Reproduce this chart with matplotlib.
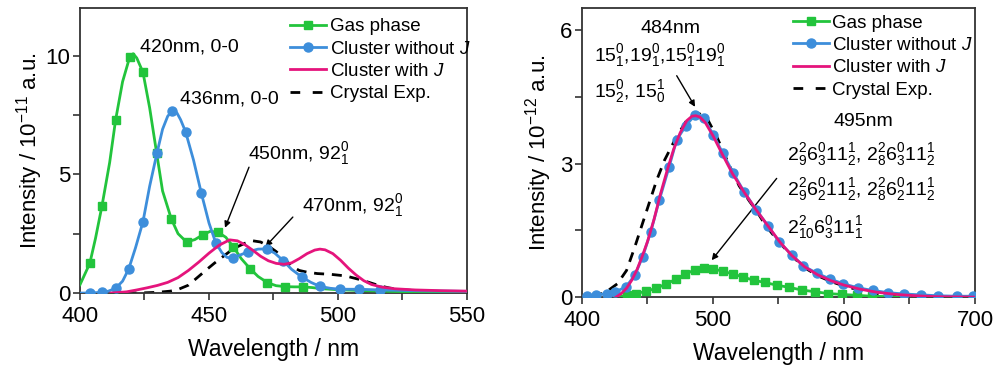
import numpy as np
import matplotlib
matplotlib.use("Agg")
import matplotlib.pyplot as plt
from matplotlib.ticker import MultipleLocator

plt.rcParams['font.family'] = ['Liberation Sans', 'DejaVu Sans']
plt.rcParams['mathtext.fontset'] = 'custom'
plt.rcParams['mathtext.rm'] = 'Liberation Sans'
plt.rcParams['mathtext.it'] = 'Liberation Sans:italic'
plt.rcParams['mathtext.bf'] = 'Liberation Sans:bold'

GREEN = '#22c43c'
BLUE = '#3d8edb'
PINK = '#e5147c'
AXC = '#333333'

# ---------------- left panel data (x1e-11 a.u.) ----------------
gas_l_x = [400, 403.8, 406, 408.5, 411.5, 413.8, 416.5, 419.3, 420.6, 422, 424.4, 427, 429.7,
           432, 435.4, 438, 441.3, 444.5, 447.7, 450.5, 453.5, 456.5, 459.4, 462.5, 465.9,
           469, 472.6, 476, 479.5, 483, 486.3, 490, 494, 500, 510, 520, 530, 540, 550]
gas_l_y = [0.35, 1.25, 2.3, 3.66, 5.5, 7.29, 8.9, 9.95, 10.08, 9.9, 9.3, 7.8, 5.9,
           4.3, 3.12, 2.5, 2.15, 2.25, 2.46, 2.6, 2.56, 2.35, 1.95, 1.45, 1.03,
           0.7, 0.44, 0.31, 0.27, 0.26, 0.26, 0.23, 0.18, 0.14, 0.1, 0.07, 0.05, 0.03, 0.02]
gas_l_mx = [403.8, 408.5, 413.8, 419.3, 424.4, 429.7, 435.4, 441.3, 447.7, 453.5, 459.4,
            465.9, 472.6, 479.5, 486.3]
gas_l_my = [1.25, 3.66, 7.29, 9.95, 9.3, 5.9, 3.12, 2.15, 2.46, 2.56, 1.95,
            1.03, 0.44, 0.27, 0.26]

blue_l_x = [400, 403.8, 408.5, 411, 413.8, 416.5, 418.9, 421.5, 424.4, 427, 429.8, 432, 434,
            435.7, 437.5, 439, 440.9, 444, 447, 450, 452.6, 455, 457, 459.3, 462, 465.3,
            469, 472.4, 475.5, 478.8, 482, 485.9, 489.5, 493, 497, 500.8, 508.3, 516.2,
            525, 535, 550]
blue_l_y = [0, 0, 0.03, 0.08, 0.2, 0.5, 1.02, 1.9, 3.0, 4.5, 5.88, 6.9, 7.45,
            7.66, 7.6, 7.3, 6.8, 5.6, 4.22, 2.95, 2.12, 1.7, 1.5, 1.48, 1.6, 1.74,
            1.85, 1.86, 1.68, 1.36, 1.0, 0.68, 0.45, 0.28, 0.2, 0.16, 0.16, 0.13,
            0.11, 0.09, 0.07]
blue_l_mx = [403.8, 408.5, 413.8, 418.9, 424.4, 429.8, 435.7, 440.9, 447, 452.6, 459.3,
             465.3, 472.4, 478.8, 485.9, 493, 500.8, 508.3, 516.2]
blue_l_my = [0, 0.03, 0.2, 1.02, 3.0, 5.88, 7.66, 6.8, 4.22, 2.12, 1.48,
             1.74, 1.86, 1.36, 0.68, 0.28, 0.16, 0.16, 0.13]

pink_l_x = [412, 418, 422, 426, 430, 434, 438, 442, 446, 450, 454, 458, 461, 464, 467,
            470, 473, 476, 479, 482, 485, 488, 491, 493, 495, 498, 501, 504, 507, 510,
            513, 517, 522, 530, 540, 550]
pink_l_y = [0, 0.05, 0.13, 0.22, 0.32, 0.45, 0.65, 0.95, 1.3, 1.68, 2.02, 2.24, 2.2, 2.03, 1.8,
            1.55, 1.36, 1.25, 1.21, 1.27, 1.45, 1.66, 1.81, 1.85, 1.82, 1.66, 1.38, 1.05, 0.76, 0.52,
            0.36, 0.25, 0.18, 0.13, 0.1, 0.08]

crys_l_x = [418, 425, 430, 435, 438, 442, 446, 449, 452, 455, 458, 461, 464, 467, 470,
            473, 476, 479, 482, 485, 488, 492, 497, 503, 508, 512, 516, 520, 525, 530,
            540, 550]
crys_l_y = [0, 0.01, 0.03, 0.08, 0.15, 0.33, 0.7, 0.98, 1.25, 1.5, 1.75, 1.95, 2.1, 2.2, 2.15,
            1.98, 1.75, 1.45, 1.13, 0.95, 0.88, 0.82, 0.79, 0.72, 0.58, 0.45, 0.31, 0.21, 0.14, 0.1,
            0.06, 0.05]

# ---------------- right panel data (x1e-12 a.u.) ----------------
gas_r_x = [426, 434, 441, 449, 456.5, 464, 471.5, 479, 486, 493, 500, 507.4, 515.5, 523,
           531, 539.5, 548.5, 558, 567.7, 578, 588, 598.3, 610, 621, 635, 650]
gas_r_y = [0, 0.04, 0.08, 0.13, 0.2, 0.29, 0.4, 0.52, 0.61, 0.66, 0.64, 0.58, 0.52, 0.45,
           0.38, 0.33, 0.27, 0.22, 0.16, 0.12, 0.08, 0.06, 0.04, 0.02, 0.01, 0]
gas_r_mx = gas_r_x[1:24]
gas_r_my = gas_r_y[1:24]

blue_r_x = [403.5, 411, 419, 425.5, 433.6, 440.5, 446.3, 452.4, 459, 466.4, 472.3, 479.4,
            486.3, 493.1, 500.2, 507.4, 515.5, 523.7, 532.8, 541.8, 550.6, 560.1, 569,
            579.2, 589, 599.5, 610.5, 621.9, 633.8, 646, 659, 672, 686, 698.7]
blue_r_y = [0.03, 0.05, 0.08, 0.12, 0.23, 0.5, 0.91, 1.46, 2.18, 2.92, 3.54, 3.86,
            4.1, 4.02, 3.65, 3.24, 2.79, 2.37, 1.97, 1.61, 1.24, 0.95, 0.7,
            0.54, 0.41, 0.3, 0.21, 0.15, 0.1, 0.07, 0.05, 0.03, 0.02, 0.02]

pink_r_x = [426, 430, 434, 438, 442, 446, 450, 455, 460, 465, 470, 475, 480, 484, 487, 490,
            494, 500, 507, 515, 524, 533, 542, 551, 560, 570, 580, 590, 600, 612, 625, 640,
            655, 670, 700]
pink_r_y = [0, 0.08, 0.2, 0.38, 0.62, 0.92, 1.25, 1.75, 2.33, 2.85, 3.33, 3.7, 3.97, 4.07, 4.08,
            4.05, 3.93, 3.63, 3.22, 2.77, 2.35, 1.96, 1.6, 1.24, 0.94, 0.68, 0.5, 0.37, 0.27, 0.18,
            0.11, 0.06, 0.03, 0.01, 0]

crys_r_x = [408, 415, 420, 427, 434, 440, 445, 450, 457, 463, 472, 480, 486, 490, 496,
            503, 508, 513, 520, 528, 533, 540, 550, 560, 570, 580, 590, 600, 610, 620,
            630, 640, 655]
crys_r_y = [0.03, 0.08, 0.15, 0.3, 0.6, 1.1, 1.55, 2.0, 2.63, 3.08, 3.6, 3.98, 4.14, 4.12, 3.99,
            3.6, 3.26, 2.93, 2.5, 2.15, 1.95, 1.62, 1.25, 0.93, 0.66, 0.48, 0.35, 0.25, 0.17, 0.1,
            0.06, 0.03, 0]

labels = ['Gas phase', 'Cluster without $J$', 'Cluster with $J$', 'Crystal Exp.']

fig = plt.figure(figsize=(10, 3.7), dpi=100)
ax1 = fig.add_axes([0.08, 0.208, 0.387, 0.77])
ax2 = fig.add_axes([0.582, 0.197, 0.393, 0.781])

LW = 2.0
dash = (3.6, 2.8)


def draw(ax, gx, gy, gmx, gmy, bx, by, bmx, bmy, px, py, cx, cy):
    ax.plot(cx, cy, color='k', lw=LW, ls=(0, dash), zorder=2)
    ax.plot(gx, gy, color=GREEN, lw=LW, zorder=3)
    ax.plot(gmx, gmy, ls='none', marker='s', ms=5.5, color=GREEN, zorder=3)
    ax.plot(bx, by, color=BLUE, lw=LW, zorder=4)
    ax.plot(bmx, bmy, ls='none', marker='o', ms=6.5, color=BLUE, zorder=4)
    ax.plot(px, py, color=PINK, lw=LW, zorder=5)
    handles = [
        plt.Line2D([], [], color=GREEN, lw=LW, marker='s', ms=5.5),
        plt.Line2D([], [], color=BLUE, lw=LW, marker='o', ms=6.5),
        plt.Line2D([], [], color=PINK, lw=LW),
        plt.Line2D([], [], color='k', lw=LW, ls=(0, (3.5, 4.5))),
    ]
    return handles


h = draw(ax1, gas_l_x, gas_l_y, gas_l_mx, gas_l_my, blue_l_x, blue_l_y, blue_l_mx, blue_l_my,
         pink_l_x, pink_l_y, crys_l_x, crys_l_y)
draw(ax2, gas_r_x, gas_r_y, gas_r_mx, gas_r_my, blue_r_x, blue_r_y, blue_r_x, blue_r_y,
     pink_r_x, pink_r_y, crys_r_x, crys_r_y)

for ax, anchor in [(ax1, (0.543, 0.965)), (ax2, (0.537, 0.978))]:
    ax.legend(h, labels, loc='upper left', bbox_to_anchor=anchor, frameon=False,
              fontsize=13.5, numpoints=1, handlelength=1.9, handletextpad=0.2,
              labelspacing=0.28, borderpad=0, borderaxespad=0)

ax1.set_xlim(400, 550)
ax1.set_ylim(0, 12)
ax1.xaxis.set_major_locator(MultipleLocator(50))
ax1.xaxis.set_minor_locator(MultipleLocator(25))
ax1.yaxis.set_major_locator(MultipleLocator(5))
ax1.yaxis.set_minor_locator(MultipleLocator(2.5))
ax1.set_ylabel('Intensity / 10$^{-11}$ a.u.', fontsize=16, labelpad=0)

ax2.set_xlim(400, 700)
ax2.set_ylim(0, 6.5)
ax2.xaxis.set_major_locator(MultipleLocator(100))
ax2.xaxis.set_minor_locator(MultipleLocator(50))
ax2.yaxis.set_major_locator(MultipleLocator(3))
ax2.yaxis.set_minor_locator(MultipleLocator(1.5))
ax2.set_ylabel('Intensity / 10$^{-12}$ a.u.', fontsize=16, labelpad=4)

for ax in (ax1, ax2):
    ax.set_xlabel('Wavelength / nm', fontsize=16.5, labelpad=8)
    ax.tick_params(which='both', direction='out', length=5, width=1.2, color=AXC,
                   labelsize=16, top=False, right=False, pad=2)
    ax.tick_params(axis='x', which='both', pad=4.5)
    for s in ax.spines.values():
        s.set_color(AXC)
        s.set_linewidth(1.3)

arrow = dict(arrowstyle='-|>', color='k', lw=1.0, mutation_scale=9, shrinkA=0, shrinkB=0)
FS = 14

# left annotations
ax1.text(423.3, 10.18, '420nm, 0-0', fontsize=FS, ha='left', va='baseline')
ax1.text(438.8, 7.97, '436nm, 0-0', fontsize=FS, ha='left', va='baseline')
ax1.text(465.1, 5.66, '450nm, $92_1^0$', fontsize=FS, ha='left', va='baseline')
ax1.text(485.9, 3.44, '470nm, $92_1^0$', fontsize=FS, ha='left', va='baseline')
ax1.annotate('', xy=(456.2, 2.75), xytext=(465.5, 5.3), arrowprops=arrow)
ax1.annotate('', xy=(471.9, 1.96), xytext=(482.5, 3.2), arrowprops=arrow)

# right annotations
ax2.text(467.7, 5.95, '484nm', fontsize=FS, ha='center', va='baseline')
ax2.text(409.4, 5.3, '$15_1^0$,$19_1^0$,$15_1^0 19_1^0$', fontsize=FS, ha='left', va='baseline')
ax2.text(409.4, 4.51, '$15_2^0$, $15_0^1$', fontsize=FS, ha='left', va='baseline')
ax2.annotate('', xy=(486.3, 4.28), xytext=(472.3, 4.98), arrowprops=arrow)
ax2.text(614.8, 3.84, '495nm', fontsize=FS, ha='center', va='baseline')
ax2.text(556.7, 3.09, '$2_9^2 6_3^0 11_2^1$, $2_8^2 6_3^0 11_2^1$', fontsize=FS, ha='left', va='baseline')
ax2.text(556.7, 2.30, '$2_9^2 6_2^0 11_2^1$, $2_8^2 6_2^0 11_2^1$', fontsize=FS, ha='left', va='baseline')
ax2.text(556.7, 1.43, '$2_{10}^2 6_3^0 11_1^1$', fontsize=FS, ha='left', va='baseline')
ax2.annotate('', xy=(499, 0.83), xytext=(548.6, 2.67), arrowprops=arrow)

fig.savefig('out.png', dpi=100)
